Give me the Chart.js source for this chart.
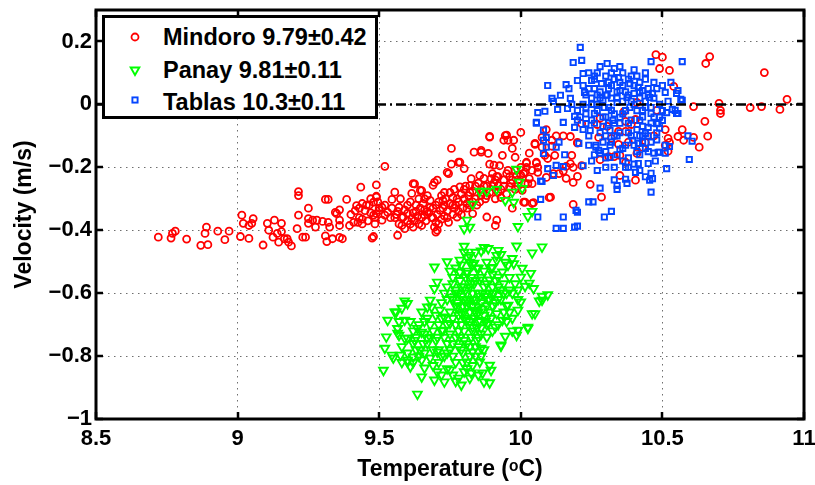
<!DOCTYPE html>
<html>
<head>
<meta charset="utf-8">
<script src="https://cdn.jsdelivr.net/npm/chart.js@4.4.1/dist/chart.umd.min.js"></script>
<style>
  html, body { margin: 0; padding: 0; background: #fff; }
  #wrap { position: relative; width: 815px; height: 485px; }
  #c { position: absolute; left: 0; top: 0; }
  #legend { position: absolute; left: 102px; top: 15px; width: 276px; height: 104px; box-sizing: border-box;
            border: 3px solid #000; background: #fff; font-family: 'Liberation Sans', Arial, Helvetica, sans-serif; }
  #legend .row { position: absolute; left: 58px; font-weight: bold; font-size: 23.5px; line-height: 26px; color: #000; white-space: nowrap; }
  #legend svg { position: absolute; width: 14px; height: 14px; }
</style>
</head>
<body>
<div id="wrap">
  <canvas id="c" width="815" height="485"></canvas>
  <div id="legend"></div>
</div>
<script>
// ---------------- DATA ----------------
const xTicks = [8.5, 9, 9.5, 10, 10.5, 11];
const yTicks = [-1, -0.8, -0.6, -0.4, -0.2, 0, 0.2];
const refLineV = 0;
const seriesLabels = ['Mindoro 9.79\u00b10.42', 'Panay 9.81\u00b10.11', 'Tablas 10.3\u00b10.11'];

// [temperature (°C), velocity (m/s)]
const mindoro = [
[8.72,-0.422],[8.765,-0.425],[8.77,-0.41],[8.78,-0.403],[8.82,-0.428],[8.87,-0.448],[8.895,-0.446],[8.885,-0.41],
[8.89,-0.39],[8.93,-0.403],[8.955,-0.43],[8.97,-0.403],[9.01,-0.42],[9.015,-0.352],[9.02,-0.378],[9.04,-0.426],
[9.04,-0.385],[9.055,-0.363],[9.05,-0.378],[9.09,-0.447],[9.105,-0.378],[9.11,-0.4],[9.13,-0.368],[9.125,-0.422],
[9.14,-0.41],[9.145,-0.438],[9.155,-0.378],[9.155,-0.404],[9.165,-0.427],[9.18,-0.438],[9.19,-0.45],[9.175,-0.427],
[9.21,-0.395],[9.215,-0.352],[9.215,-0.29],[9.215,-0.277],[9.23,-0.422],[9.24,-0.422],[9.25,-0.363],[9.25,-0.33],
[9.25,-0.378],[9.265,-0.368],[9.275,-0.39],[9.28,-0.368],[9.3,-0.372],[9.31,-0.302],[9.32,-0.302],[9.31,-0.418],
[9.315,-0.436],[9.32,-0.375],[9.325,-0.39],[9.335,-0.427],[9.345,-0.343],[9.35,-0.347],[9.36,-0.335],[9.36,-0.368],
[9.36,-0.385],[9.36,-0.423],[9.37,-0.427],[9.385,-0.302],[9.395,-0.385],[9.4,-0.35],[9.41,-0.375],[9.415,-0.338],
[9.42,-0.322],[9.43,-0.36],[9.435,-0.263],[9.44,-0.315],[9.44,-0.38],[9.45,-0.338],[9.465,-0.32],[9.47,-0.3],
[9.475,-0.425],[9.485,-0.38],[9.49,-0.256],[9.49,-0.292],[9.49,-0.347],[9.43,-0.33],[9.455,-0.32],[9.47,-0.345],
[9.48,-0.352],[9.46,-0.37],[9.44,-0.365],[9.425,-0.375],[9.495,-0.31],[9.5,-0.33],
[9.52,-0.197],[9.48,-0.42],[9.49,-0.295],[9.48,-0.311],[9.485,-0.359],[9.50,-0.337],[9.51,-0.368],[9.52,-0.352],
[9.53,-0.343],[9.51,-0.327],[9.555,-0.279],[9.545,-0.302],[9.57,-0.327],[9.585,-0.358],[9.58,-0.385],[9.565,-0.416],
[9.6,-0.346],[9.615,-0.362],[9.62,-0.252],[9.62,-0.39],[9.63,-0.32],[9.645,-0.33],[9.65,-0.274],[9.65,-0.385],
[9.66,-0.352],[9.67,-0.29],[9.68,-0.327],[9.695,-0.248],[9.7,-0.375],[9.7,-0.406],[9.715,-0.337],[9.725,-0.305],
[9.73,-0.28],[9.745,-0.22],[9.755,-0.14],[9.755,-0.19],[9.76,-0.296],[9.765,-0.33],[9.775,-0.358],[9.78,-0.184],
[9.785,-0.262],[9.8,-0.204],[9.81,-0.315],[9.82,-0.258],[9.825,-0.236],[9.83,-0.347],[9.835,-0.152],[9.845,-0.32],
[9.855,-0.226],[9.86,-0.152],[9.865,-0.28],[9.88,-0.358],[9.885,-0.156],[9.89,-0.104],[9.89,-0.19],[9.895,-0.236],
[9.91,-0.385],[9.915,-0.368],[9.92,-0.258],[9.925,-0.195],[9.93,-0.296],[9.935,-0.162],[9.94,-0.114],[9.95,-0.098],
[9.955,-0.21],[9.96,-0.262],[9.97,-0.14],[9.97,-0.33],[9.975,-0.114],[9.98,-0.168],[9.985,-0.226],[10.0,-0.089],
[10.0,-0.2],[10.01,-0.311],[10.02,-0.184],[10.025,-0.252],[10.04,-0.315],[10.05,-0.124],[10.055,-0.184],[10.06,-0.216],
[10.1,-0.296],
[9.59,-0.335],[9.6,-0.37],[9.61,-0.31],[9.62,-0.345],[9.625,-0.37],[9.635,-0.355],[9.64,-0.3],[9.65,-0.36],
[9.655,-0.315],[9.66,-0.335],[9.665,-0.37],[9.675,-0.345],[9.68,-0.305],[9.685,-0.36],[9.69,-0.33],[9.695,-0.39],
[9.705,-0.35],[9.71,-0.31],[9.72,-0.365],[9.725,-0.33],[9.73,-0.355],[9.735,-0.3],[9.74,-0.34],[9.745,-0.375],
[9.75,-0.315],[9.76,-0.35],[9.765,-0.27],[9.77,-0.32],[9.775,-0.3],[9.78,-0.34],[9.79,-0.285],[9.795,-0.33],
[9.8,-0.3],[9.805,-0.26],[9.815,-0.29],[9.82,-0.32],[9.83,-0.275],[9.84,-0.3],[9.85,-0.25],[9.855,-0.31],
[9.86,-0.27],[9.87,-0.235],[9.875,-0.3],[9.88,-0.26],[9.89,-0.28],[9.9,-0.22],[9.905,-0.25],[9.91,-0.3],
[9.92,-0.23],[9.93,-0.27],[9.94,-0.24],[9.95,-0.285],[9.96,-0.23],[9.965,-0.25],[9.98,-0.27],[9.99,-0.24],
[9.545,-0.33],[9.555,-0.36],[9.565,-0.34],[9.575,-0.3],[9.58,-0.36],[9.59,-0.395],
[9.89,-0.102],[9.945,-0.099],[9.955,-0.114],[9.86,-0.146],[9.74,-0.216],[9.785,-0.184],[9.625,-0.253],[9.645,-0.273],
[9.615,-0.283],[9.705,-0.241],[9.69,-0.257],[9.705,-0.4],[9.905,-0.193],[9.915,-0.229],
[9.56,-0.35],[9.57,-0.38],[9.6,-0.32],[9.61,-0.38],[9.63,-0.34],[9.64,-0.38],[9.66,-0.3],[9.67,-0.34],
[9.69,-0.36],[9.7,-0.32],[9.71,-0.38],[9.72,-0.29],[9.73,-0.32],[9.74,-0.36],[9.75,-0.28],[9.76,-0.32],
[9.78,-0.31],[9.79,-0.35],[9.8,-0.27],[9.81,-0.33],[9.82,-0.28],[9.83,-0.31],[9.84,-0.26],[9.86,-0.29],
[9.87,-0.26],[9.88,-0.29],[9.9,-0.26],[9.91,-0.24],[9.92,-0.28],[9.94,-0.26],[9.95,-0.22],[9.97,-0.24],
[9.98,-0.21],[9.99,-0.26],[10.01,-0.22],[10.02,-0.2],[10.04,-0.21],[10.06,-0.2],[9.52,-0.32],[9.54,-0.36],
[10.477,0.158],[10.5,0.15],[10.49,0.114],[10.525,0.108],[10.54,0.057],[10.41,0.006],[10.48,-0.019],[10.365,-0.022],
[10.37,-0.054],[10.405,-0.048],[10.39,-0.064],[10.28,-0.044],[10.27,-0.064],[10.305,-0.07],[10.345,-0.086],[10.37,-0.086],
[10.215,-0.061],[10.275,-0.105],[10.32,-0.108],[10.38,-0.12],[10.345,-0.127],[10.44,-0.121],[10.47,-0.1],[10.51,-0.08],
[10.57,-0.08],[10.555,-0.102],[10.52,-0.108],[10.575,-0.114],[10.61,-0.105],[10.61,-0.007],[10.09,-0.08],[10.075,-0.105],
[10.11,-0.114],[10.15,-0.1],[10.175,-0.102],[10.125,-0.1],[10.2,-0.121],[10.05,-0.127],[10.43,-0.136],[10.51,-0.13],
[10.667,0.152],[10.653,0.13],[10.86,0.101],[10.7,0.003],[10.705,-0.019],[10.705,-0.029],[10.81,-0.01],[10.85,-0.007],
[10.915,-0.016],[10.94,0.016],[10.65,-0.054],[10.66,-0.101],[10.525,-0.121],[10.63,-0.136],[10.52,-0.149],[10.03,-0.155],
[10.055,-0.187],[10.02,-0.187],[10.015,-0.215],[10.03,-0.236],[10.04,-0.252],[10.015,-0.252],[10.005,-0.273],[10.0,-0.225],
[10.015,-0.311],[10.045,-0.312],[10.105,-0.295],[10.09,-0.232],[10.115,-0.22],[10.135,-0.22],[10.15,-0.212],[10.16,-0.197],
[10.175,-0.188],[10.185,-0.2],[10.16,-0.235],[10.185,-0.248],[10.2,-0.229],[10.215,-0.195],[10.085,-0.162],[10.095,-0.172],
[10.12,-0.162],[10.18,-0.162],[10.075,-0.136],[10.11,-0.133],[10.2,-0.123],[10.245,-0.254],[10.285,-0.295],[10.185,-0.318],
[10.28,-0.176],[10.31,-0.166],[10.33,-0.166],[10.35,-0.162],[10.37,-0.184],[10.41,-0.156],[10.35,-0.226],[10.405,-0.241]
];

const panay = [
[9.8,-0.451],[9.87,-0.455],[9.86,-0.466],[9.885,-0.458],[9.92,-0.464],[9.915,-0.48],[9.93,-0.477],[9.985,-0.45],
[10.075,-0.453],[10.04,-0.472],[9.695,-0.517],[9.785,-0.495],[9.79,-0.51],[9.81,-0.486],[9.82,-0.502],[9.835,-0.505],
[9.85,-0.521],[9.785,-0.533],[9.81,-0.537],[9.88,-0.502],[9.9,-0.518],[9.915,-0.495],[9.945,-0.502],[9.955,-0.511],
[9.97,-0.49],[9.975,-0.506],[9.935,-0.533],[10.005,-0.521],[10.0,-0.549],[10.035,-0.537],[10.03,-0.568],[10.045,-0.585],
[10.015,-0.578],[9.99,-0.59],[10.075,-0.61],[10.065,-0.625],[10.04,-0.665],[10.0,-0.628],[9.99,-0.654],[10.025,-0.708],
[9.99,-0.718],[9.97,-0.68],[9.955,-0.638],[9.935,-0.686],[9.945,-0.737],[9.93,-0.765],[9.915,-0.665],[9.89,-0.622],
[9.865,-0.6],[9.85,-0.644],[9.885,-0.696],[9.91,-0.708],[9.9,-0.58],[9.92,-0.549],[9.89,-0.558],[9.855,-0.558],
[9.825,-0.568],[9.8,-0.58],[9.77,-0.59],[9.755,-0.612],[9.705,-0.565],[9.695,-0.585],[9.68,-0.622],[9.67,-0.644],
[9.685,-0.644],[9.59,-0.625],[9.58,-0.648],[9.555,-0.66],[9.59,-0.686],[9.565,-0.712],[9.6,-0.743],[9.565,-0.727],
[9.635,-0.712],[9.65,-0.724],[9.67,-0.68],[9.625,-0.75],[9.655,-0.76],[9.645,-0.781],[9.67,-0.743],[9.715,-0.654],
[9.73,-0.676],[9.75,-0.696],[9.725,-0.718],[9.705,-0.74],[9.775,-0.644],[9.79,-0.665],[9.81,-0.686],[9.83,-0.708],
[9.81,-0.622],[9.835,-0.654],[9.855,-0.686],[9.785,-0.74],[9.76,-0.761],[9.81,-0.761],[9.845,-0.75],[9.86,-0.775],
[9.83,-0.787],[9.795,-0.79],[9.74,-0.79],[9.705,-0.787],[9.68,-0.806],[9.65,-0.812],[9.62,-0.803],[9.575,-0.797],
[9.55,-0.806],[9.6,-0.819],[9.61,-0.834],[9.66,-0.838],[9.705,-0.85],[9.75,-0.844],[9.81,-0.819],[9.825,-0.854],
[9.78,-0.87],[9.73,-0.882],[9.695,-0.876],[9.79,-0.892],[9.865,-0.854],[9.87,-0.882],[9.89,-0.885],[9.895,-0.845],
[9.89,-0.829],[9.855,-0.819],[9.635,-0.921],[9.65,-0.866],[9.53,-0.686],[9.525,-0.739],[9.52,-0.775],[9.515,-0.845],
[9.545,-0.797],[9.56,-0.66],[9.565,-0.712],[9.57,-0.734],[9.6,-0.633],[9.59,-0.743],[9.6,-0.813],[9.93,-0.768],
[9.985,-0.734],[10.05,-0.665],[10.025,-0.712],[10.075,-0.622],[10.095,-0.605],
[9.985,-0.206],[9.995,-0.247],[10.005,-0.267],[9.97,-0.279],[9.975,-0.311],[9.945,-0.305],[9.915,-0.27],[9.88,-0.276],
[9.855,-0.276],[9.83,-0.317],[9.81,-0.368],[9.82,-0.39],[9.8,-0.395],[9.99,-0.388],[10.025,-0.356],[10.04,-0.34],
[9.76,-0.62],[9.77,-0.64],[9.78,-0.6],[9.78,-0.67],[9.79,-0.7],[9.79,-0.58],[9.8,-0.62],[9.8,-0.66],
[9.8,-0.72],[9.805,-0.55],[9.81,-0.6],[9.81,-0.64],[9.815,-0.7],[9.82,-0.58],[9.82,-0.62],[9.82,-0.66],
[9.825,-0.74],[9.83,-0.6],[9.83,-0.64],[9.835,-0.68],[9.84,-0.56],[9.84,-0.62],[9.845,-0.71],[9.85,-0.6],
[9.85,-0.66],[9.86,-0.63],[9.86,-0.73],[9.87,-0.58],[9.87,-0.67],[9.875,-0.61],[9.88,-0.64],[9.88,-0.74],
[9.89,-0.6],[9.895,-0.68],[9.9,-0.64],[9.9,-0.54],[9.905,-0.6],[9.91,-0.56],[9.92,-0.62],[9.93,-0.59],
[9.94,-0.57],[9.95,-0.6],[9.96,-0.55],[9.75,-0.66],[9.74,-0.7],[9.74,-0.62],[9.73,-0.74],[9.72,-0.68],
[9.71,-0.7],[9.7,-0.67],[9.69,-0.72],[9.68,-0.7],[9.67,-0.76],[9.66,-0.73],[9.71,-0.78],[9.72,-0.8],
[9.76,-0.8],[9.77,-0.74],[9.78,-0.77],[9.795,-0.82],[9.8,-0.85],[9.76,-0.86],[9.74,-0.84],[9.82,-0.8],
[9.84,-0.8],[9.86,-0.8],[9.85,-0.86],[9.87,-0.78],[9.63,-0.78],[9.64,-0.8],[9.62,-0.76],[9.58,-0.77],
[9.6,-0.79],[9.84,-0.47],[9.82,-0.48],[9.8,-0.47],[9.83,-0.51],[9.77,-0.52],[9.76,-0.55],[9.74,-0.58],
[9.73,-0.6],[9.72,-0.63],
[9.74,-0.5],[9.75,-0.53],[9.76,-0.57],[9.77,-0.6],[9.775,-0.63],[9.785,-0.56],[9.79,-0.61],[9.795,-0.64],
[9.8,-0.68],[9.805,-0.59],[9.81,-0.53],[9.815,-0.63],[9.82,-0.69],[9.825,-0.55],[9.83,-0.62],[9.835,-0.57],
[9.84,-0.66],[9.845,-0.52],[9.85,-0.69],[9.855,-0.61],[9.86,-0.55],[9.865,-0.65],[9.87,-0.53],[9.875,-0.69],
[9.88,-0.57],[9.885,-0.62],[9.89,-0.66],[9.895,-0.52],[9.9,-0.6],[9.91,-0.63],[9.92,-0.58],[9.93,-0.62],
[9.94,-0.66],[9.95,-0.64],[9.96,-0.59],[9.97,-0.6],[9.98,-0.57],[9.99,-0.62],[9.78,-0.72],[9.8,-0.75],
[9.82,-0.77],[9.83,-0.72],[9.85,-0.74],[9.77,-0.7],[9.76,-0.68],[9.75,-0.73],[9.74,-0.76],[9.72,-0.72],
[9.7,-0.75],[9.69,-0.78],[9.68,-0.74],[9.71,-0.82],[9.73,-0.8],[9.75,-0.78],[9.77,-0.82],[9.79,-0.78],
[9.81,-0.84],[9.83,-0.83],[9.84,-0.77],[9.86,-0.71],[9.88,-0.7],[9.9,-0.72],[9.92,-0.7],[9.94,-0.6],
[9.95,-0.69],[9.96,-0.66],[9.97,-0.72],[9.66,-0.69],[9.65,-0.66],[9.64,-0.7],[9.62,-0.72],[9.61,-0.69],
[9.63,-0.74],[9.57,-0.69],[9.58,-0.82],[9.62,-0.82],[9.66,-0.79],[9.69,-0.83],[9.72,-0.86],[9.77,-0.88],
[9.82,-0.87]
];

const tablas = [
[10.21,0.181],[10.215,0.14],[10.185,0.133],[10.305,0.13],[10.33,0.114],[10.46,0.136],[10.57,0.136],[10.095,0.06],
[10.16,0.063],[10.22,0.098],[10.2,0.076],[10.25,0.076],[10.285,0.066],[10.31,0.07],[10.345,0.085],[10.385,0.066],
[10.415,0.054],[10.48,0.05],[10.51,0.038],[10.555,0.044],[10.57,0.013],[10.14,0.029],[10.11,0.019],[10.115,0.01],
[10.175,0.019],[10.225,0.038],[10.26,0.05],[10.305,0.029],[10.35,0.044],[10.375,0.022],[10.4,0.035],[10.43,0.044],
[10.455,0.022],[10.06,-0.026],[10.085,-0.022],[10.13,-0.016],[10.165,-0.013],[10.2,-0.019],[10.23,-0.01],[10.26,-0.029],
[10.295,-0.01],[10.32,-0.019],[10.34,0.006],[10.385,-0.01],[10.43,-0.019],[10.46,-0.029],[10.49,-0.041],[10.515,-0.026],
[10.545,-0.019],[10.555,-0.029],[10.055,-0.057],[10.15,-0.057],[10.19,-0.038],[10.19,-0.073],[10.23,-0.061],[10.245,-0.083],
[10.315,-0.083],[10.325,-0.051],[10.35,-0.041],[10.42,-0.051],[10.45,-0.073],[10.48,-0.061],[10.5,-0.051],[10.09,-0.105],
[10.135,-0.12],[10.205,-0.124],[10.265,-0.13],[10.395,-0.114],[10.44,-0.092],[10.29,0.013],[10.55,0.035],[10.565,0.016],
[10.465,0.035],[10.535,-0.016],[10.55,-0.029],[10.485,-0.06],[10.49,-0.076],[10.59,-0.1],[10.605,-0.117],[10.48,-0.113],
[10.51,-0.13],[10.525,-0.134],[10.47,-0.155],[10.49,-0.152],[10.475,-0.18],[10.595,-0.175],[10.515,-0.204],[10.075,-0.245],
[10.07,-0.302],[10.06,-0.358],[10.115,-0.226],[10.15,-0.198],[10.125,-0.136],[10.22,-0.195],[10.24,-0.31],[10.255,-0.31],
[10.28,-0.266],[10.27,-0.21],[10.315,-0.169],[10.34,-0.258],[10.34,-0.27],[10.375,-0.251],[10.37,-0.238],[10.415,-0.188],
[10.405,-0.216],[10.46,-0.219],[10.465,-0.236],[10.455,-0.241],[10.46,-0.279],[10.195,-0.337],[10.2,-0.343],[10.19,-0.39],
[10.2,-0.387],[10.15,-0.394],[10.125,-0.394],[10.15,-0.358],[10.32,-0.34],[10.295,-0.358],[10.275,-0.146],[10.315,-0.13],
[10.35,-0.143],[10.415,-0.124],[10.485,-0.152],[10.51,-0.155],[10.265,-0.136],[10.28,-0.155],[10.055,-0.06],[10.08,-0.082],
[10.08,-0.114],[10.09,-0.136],[10.08,-0.156],[10.07,-0.244],[10.155,-0.16],[10.125,-0.194],[10.095,-0.204],[10.45,-0.188],
[10.33,-0.24],[10.38,-0.2],[10.25,-0.18],[10.3,-0.2],[10.42,-0.16],[10.44,-0.23],
[10.25,0.02],[10.27,0.0],[10.28,0.04],[10.3,-0.04],[10.31,0.05],[10.32,0.02],[10.33,-0.03],[10.34,0.04],
[10.35,-0.06],[10.36,0.01],[10.36,0.06],[10.37,-0.02],[10.38,0.03],[10.39,-0.05],[10.4,0.0],[10.41,-0.08],
[10.42,0.02],[10.43,-0.04],[10.44,0.01],[10.45,-0.1],[10.46,-0.01],[10.47,0.07],[10.3,-0.1],[10.32,-0.12],
[10.34,-0.1],[10.36,-0.14],[10.38,-0.09],[10.4,-0.13],[10.42,-0.1],[10.44,-0.14],[10.46,-0.12],[10.3,0.09],
[10.33,0.08],[10.36,0.1],[10.39,0.09],[10.42,0.07],[10.44,0.08],[10.27,0.1],[10.24,0.05],[10.22,0.0],
[10.26,-0.06],[10.28,-0.09],[10.24,-0.1],[10.22,-0.08],[10.2,-0.05],[10.18,0.0],[10.17,0.05],[10.28,0.12],
[10.35,0.12],[10.4,0.11],[10.34,-0.16],[10.38,-0.17],[10.3,-0.15],[10.45,0.05],[10.49,0.0],[10.52,0.01],
[10.5,0.06],[10.53,0.07],[10.37,-0.2],[10.29,-0.12],[10.43,-0.07],
[10.22,0.06],[10.23,-0.03],[10.24,0.1],[10.25,-0.05],[10.26,0.08],[10.27,-0.02],[10.28,0.02],[10.29,-0.07],
[10.3,0.03],[10.31,-0.01],[10.32,0.06],[10.33,-0.06],[10.34,0.02],[10.35,0.07],[10.36,-0.03],[10.37,0.04],
[10.38,-0.06],[10.39,0.01],[10.4,0.06],[10.41,-0.02],[10.42,0.04],[10.43,-0.1],[10.44,-0.01],[10.45,0.03],
[10.46,-0.06],[10.47,0.02],[10.48,-0.09],[10.5,-0.02],[10.31,-0.06],[10.33,-0.1],[10.35,-0.09],[10.37,-0.13],
[10.39,-0.1],[10.41,-0.15],[10.43,-0.12],[10.45,-0.15],[10.47,-0.04],[10.29,-0.04],[10.27,0.03],[10.25,0.0],
[10.23,0.03],[10.21,-0.04],[10.26,0.09],[10.32,0.1],[10.38,0.08],[10.41,0.09],[10.44,0.1],[10.36,-0.18],
[10.4,-0.19],[10.33,-0.2],[10.26,-0.16],[10.24,-0.13],[10.3,-0.17],[10.42,-0.21]
];

// ---------------- STYLE ----------------
const FONT = "'Liberation Sans', Arial, Helvetica, sans-serif";
const RED = '#ff0000', GREEN = '#00ff00', BLUE = '#0545ff';
const toPts = arr => arr.map(p => ({x: p[0], y: p[1]}));
const fmt = v => String(v).replace('-', '\u2212');

const framePlugin = {
  id: 'frame',
  afterDatasetsDraw(chart) {
    const {ctx, chartArea: {left, right, top, bottom}, scales: {x, y}} = chart;
    ctx.save();
    // dash-dot reference line
    const y0 = y.getPixelForValue(refLineV);
    ctx.beginPath();
    ctx.setLineDash([10, 4, 2, 4]);
    ctx.lineWidth = 2.5;
    ctx.strokeStyle = '#000';
    ctx.moveTo(left, y0); ctx.lineTo(right, y0);
    ctx.stroke();
    ctx.setLineDash([]);
    // inward ticks on all four sides
    ctx.lineWidth = 2.5;
    ctx.beginPath();
    xTicks.forEach(v => {
      const px = Math.round(x.getPixelForValue(v));
      ctx.moveTo(px, bottom); ctx.lineTo(px, bottom - 7);
      ctx.moveTo(px, top); ctx.lineTo(px, top + 7);
    });
    yTicks.forEach(v => {
      const py = Math.round(y.getPixelForValue(v));
      ctx.moveTo(left, py); ctx.lineTo(left + 7, py);
      ctx.moveTo(right, py); ctx.lineTo(right - 7, py);
    });
    ctx.stroke();
    // box
    ctx.lineWidth = 3;
    ctx.strokeRect(left, top, right - left, bottom - top);
    ctx.restore();
  }
};

const tickFont = {family: FONT, size: 22, weight: 'bold'};
const titleFont = {family: FONT, size: 23, weight: 'bold'};

new Chart(document.getElementById('c'), {
  type: 'scatter',
  data: {
    datasets: [
      {label: seriesLabels[0], data: toPts(mindoro), order: 2,
       pointStyle: 'circle', pointRadius: 3.5, pointBorderWidth: 1.8,
       pointBorderColor: RED, pointBackgroundColor: 'rgba(0,0,0,0)', borderColor: RED, backgroundColor: 'rgba(0,0,0,0)'},
      {label: seriesLabels[1], data: toPts(panay), order: 1,
       pointStyle: 'triangle', pointRotation: 180, pointRadius: 5, pointBorderWidth: 1.9,
       pointBorderColor: GREEN, pointBackgroundColor: 'rgba(0,0,0,0)', borderColor: GREEN, backgroundColor: 'rgba(0,0,0,0)'},
      {label: seriesLabels[2], data: toPts(tablas), order: 0,
       pointStyle: 'rect', pointRadius: 3.7, pointBorderWidth: 1.9,
       pointBorderColor: BLUE, pointBackgroundColor: 'rgba(0,0,0,0)', borderColor: BLUE, backgroundColor: 'rgba(0,0,0,0)'}
    ]
  },
  options: {
    responsive: false,
    animation: false,
    devicePixelRatio: 1,
    events: [],
    layout: {padding: {left: 0, top: 10, right: 11, bottom: 0}},
    plugins: {legend: {display: false}, tooltip: {enabled: false}},
    scales: {
      x: {
        type: 'linear', position: 'bottom', min: 8.5, max: 11,
        afterBuildTicks: s => { s.ticks = xTicks.map(v => ({value: v})); },
        afterFit: s => { s.height = 66; s.paddingLeft = 0; s.paddingRight = 0; },
        ticks: {font: tickFont, color: '#000', padding: 7, maxRotation: 0, autoSkip: false, callback: v => fmt(v)},
        grid: {color: '#6e6e6e', lineWidth: 1, drawTicks: false},
        border: {display: false, dash: [1.5, 4.5]},
        title: {display: true, text: 'Temperature (\u1d52C)', font: titleFont, color: '#000', padding: {top: 0, bottom: 2}}
      },
      y: {
        type: 'linear', position: 'left', min: -1, max: 0.3,
        afterBuildTicks: s => { s.ticks = yTicks.map(v => ({value: v})); },
        afterFit: s => { s.width = 96; s.paddingTop = 0; s.paddingBottom = 0; },
        ticks: {font: tickFont, color: '#000', padding: 4, autoSkip: false, callback: v => fmt(v)},
        grid: {color: '#6e6e6e', lineWidth: 1, drawTicks: false},
        border: {display: false, dash: [1.5, 4.5]},
        title: {display: true, text: 'Velocity (m/s)', font: titleFont, color: '#000', padding: {top: 11, bottom: 0}}
      }
    }
  },
  plugins: [framePlugin]
});

// ---------------- LEGEND (HTML, inside the plot box) ----------------
(function () {
  const lg = document.getElementById('legend');
  const marks = [
    `<circle cx="7" cy="7" r="3.5" fill="none" stroke="${RED}" stroke-width="1.8"/>`,
    `<polygon points="7,12 2.67,4.5 11.33,4.5" fill="none" stroke="${GREEN}" stroke-width="1.9"/>`,
    `<rect x="4.4" y="4.4" width="5.2" height="5.2" fill="none" stroke="${BLUE}" stroke-width="1.9"/>`
  ];
  const markY = [18.5, 51.5, 81.5];
  const textTop = [5.7, 38.5, 70.7];
  seriesLabels.forEach((lab, i) => {
    const svg = document.createElementNS('http://www.w3.org/2000/svg', 'svg');
    svg.setAttribute('viewBox', '0 0 14 14');
    svg.style.left = (30 - 7) + 'px';
    svg.style.top = (markY[i] - 7) + 'px';
    svg.innerHTML = marks[i];
    lg.appendChild(svg);
    const row = document.createElement('div');
    row.className = 'row';
    row.style.top = textTop[i] + 'px';
    row.textContent = lab;
    lg.appendChild(row);
  });
})();
</script>
</body>
</html>
